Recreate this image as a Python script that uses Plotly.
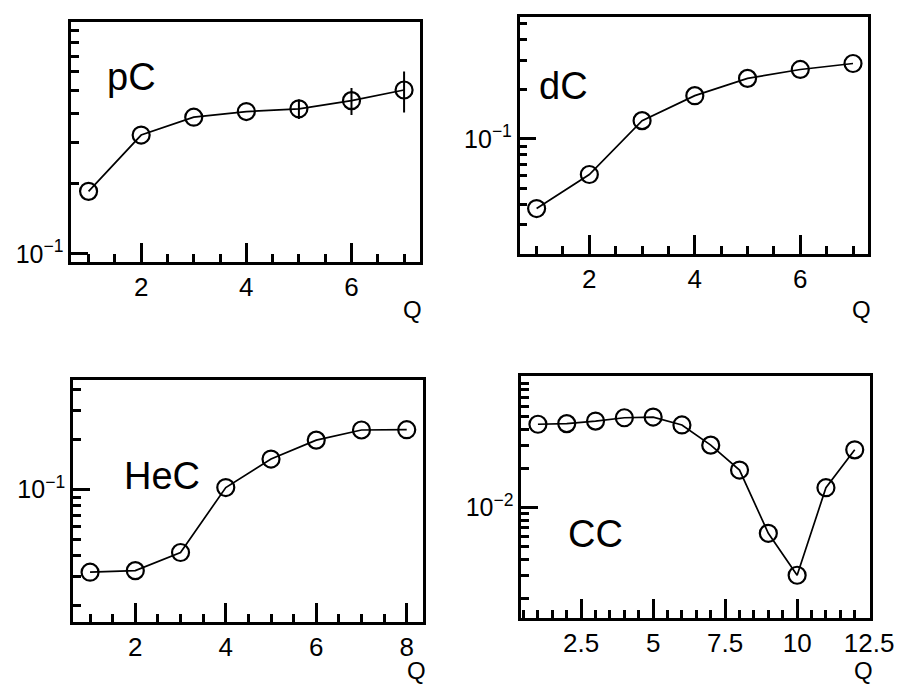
import plotly.graph_objects as go

# ---- data ----
q_pc = [1, 2, 3, 4, 5, 6, 7]
pc_vals = [0.185, 0.322, 0.384, 0.406, 0.417, 0.452, 0.502]
pc_err = [0.0, 0.0, 0.0, 0.0, 0.04, 0.06, 0.10]

q_dc = [1, 2, 3, 4, 5, 6, 7]
dc_vals = [0.0377, 0.0607, 0.129, 0.183, 0.233, 0.264, 0.287]

q_hec = [1, 2, 3, 4, 5, 6, 7, 8]
hec_vals = [0.0318, 0.0325, 0.0418, 0.103, 0.153, 0.199, 0.229, 0.230]

q_cc = [1, 2, 3, 4, 5, 6, 7, 8, 9, 10, 11, 12]
cc_vals = [0.0435, 0.0440, 0.0460, 0.0488, 0.0494, 0.0430, 0.0301, 0.0194,
           0.00635, 0.00303, 0.0142, 0.0277]

panel_names = ["pC", "dC", "HeC", "CC"]
major_y = [[0.1], [0.1], [0.1], [0.01]]
major_y_text = [["10<sup>−1</sup>"], ["10<sup>−1</sup>"], ["10<sup>−1</sup>"], ["10<sup>−2</sup>"]]

W, H = 912, 684
FONT = "Liberation Sans, Arial, sans-serif"


def dx(a, b):
    return [a / W, b / W]


def dy(top, bottom):
    return [1 - bottom / H, 1 - top / H]


def minor_logs(lo, hi):
    vals = []
    for e in range(-4, 1):
        for m in range(2, 10):
            v = m * 10.0 ** e
            if lo <= v <= hi:
                vals.append(v)
    return vals


fig = go.Figure()

series = [(q_pc, pc_vals, pc_err), (q_dc, dc_vals, None),
          (q_hec, hec_vals, None), (q_cc, cc_vals, None)]
for i, (xs, ys, err) in enumerate(series):
    tr = dict(
        x=xs, y=ys, mode="lines+markers",
        line=dict(color="black", width=1.7),
        marker=dict(symbol="circle-open", size=17, color="black",
                    line=dict(width=2.2, color="black")),
        xaxis="x" if i == 0 else f"x{i+1}",
        yaxis="y" if i == 0 else f"y{i+1}",
        showlegend=False, hoverinfo="x+y",
    )
    if err is not None:
        tr["error_y"] = dict(type="data", array=err, visible=True,
                             thickness=2, width=0, color="black")
    fig.add_trace(go.Scatter(**tr))

xdoms = [dx(65, 424), dx(526, 884), dx(66.7, 426.7), dx(527.7, 886)]
ydoms = [dy(14, 256), dy(9, 248), dy(375, 619.3), dy(371.7, 615)]
xranges = [[0.67, 7.31], [0.677, 7.28], [0.62, 8.36], [0.42, 12.52]]
yranges = [[-1.034, -0.008], [-1.699, -0.259], [-1.797, -0.337], [-2.843, -0.995]]
xdticks = [2, 2, 2, 2.5]

layout = dict(
    width=W, height=H,
    margin=dict(l=0, r=0, t=0, b=0),
    paper_bgcolor="white", plot_bgcolor="white",
    font=dict(family=FONT, color="black", size=24),
)

for i in range(4):
    xk = "xaxis" if i == 0 else f"xaxis{i+1}"
    yk = "yaxis" if i == 0 else f"yaxis{i+1}"
    xa = "x" if i == 0 else f"x{i+1}"
    ya = "y" if i == 0 else f"y{i+1}"
    layout[xk] = dict(
        domain=xdoms[i], range=xranges[i], anchor=ya,
        showline=True, linewidth=2.5, linecolor="black", mirror=True,
        showgrid=False, zeroline=False,
        ticks="inside", ticklen=19, tickwidth=2.5, tickcolor="black",
        tickmode="linear", tick0=0, dtick=xdticks[i],
        tickfont=dict(size=26, family=FONT, color="black"),
        minor=dict(ticks="inside", ticklen=8, tickwidth=2.5, tickcolor="black",
                   tickmode="linear", tick0=0, dtick=0.5, showgrid=False),
    )
    lo, hi = 10 ** yranges[i][0], 10 ** yranges[i][1]
    layout[yk] = dict(
        domain=ydoms[i], type="log", range=yranges[i], anchor=xa,
        showline=True, linewidth=2.5, linecolor="black", mirror=True,
        showgrid=False, zeroline=False,
        ticks="inside", ticklen=17, tickwidth=2.5, tickcolor="black",
        tickmode="array", tickvals=major_y[i], ticktext=major_y_text[i],
        tickfont=dict(size=25, family=FONT, color="black"),
        minor=dict(ticks="inside", ticklen=8, tickwidth=2.5, tickcolor="black",
                   tickmode="array", tickvals=minor_logs(lo, hi), showgrid=False),
    )

fig.update_layout(**layout)

# panel labels
label_pos = [(127, 70), (571, 79), (158, 472), (604, 531)]
for name, (px, py) in zip(panel_names, label_pos):
    fig.add_annotation(text=name, x=px / W, y=1 - py / H, xref="paper", yref="paper",
                       showarrow=False, xanchor="center", yanchor="middle",
                       font=dict(size=38, family=FONT, color="black"))

# axis titles "Q"
q_pos = [(416, 304), (878, 304), (420, 668), (880, 668)]
for (px, py) in q_pos:
    fig.add_annotation(text="Q", x=px / W, y=1 - py / H, xref="paper", yref="paper",
                       showarrow=False, xanchor="center", yanchor="middle",
                       font=dict(size=24, family=FONT, color="black"))

fig.write_html("out.html")
